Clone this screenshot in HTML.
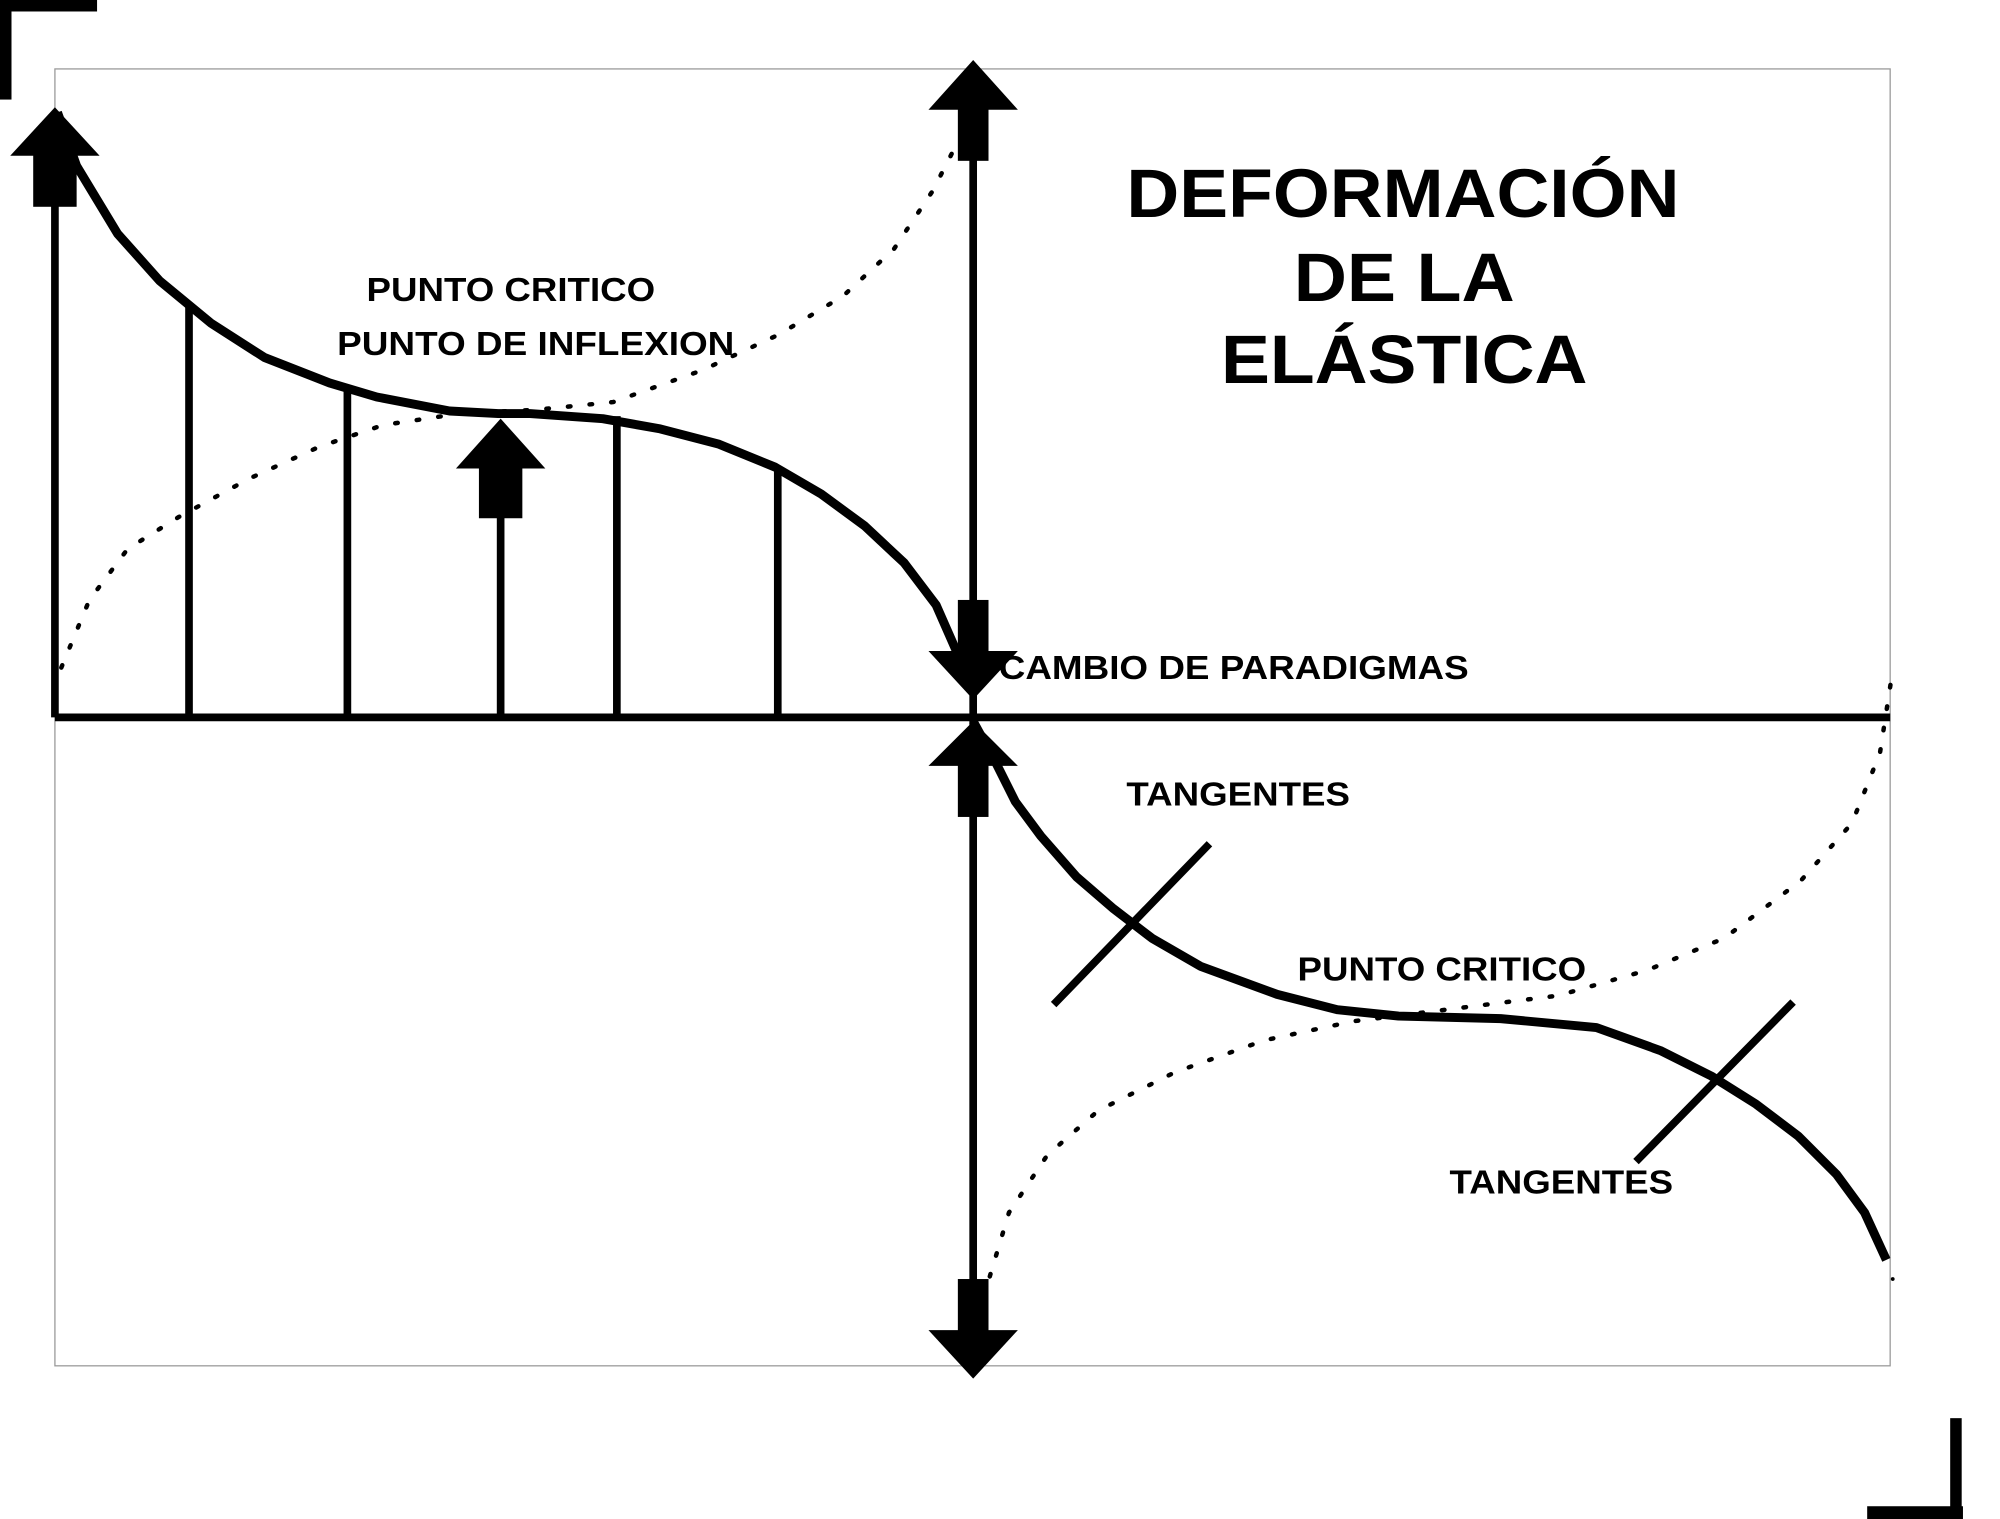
<!DOCTYPE html>
<html><head><meta charset="utf-8"><style>
html,body{margin:0;padding:0;background:#fff;}
svg{display:block;}
text{font-family:"Liberation Sans",Arial,sans-serif;font-weight:bold;fill:#000;}
</style></head><body>
<svg width="2000" height="1519" viewBox="0 0 1566 1190" preserveAspectRatio="none" xmlns="http://www.w3.org/2000/svg">
<rect x="0" y="0" width="1566" height="1190" fill="#fff"/>
<rect x="0" y="0" width="76" height="9" fill="#000"/>
<rect x="0" y="0" width="9" height="78" fill="#000"/>
<rect x="1527" y="1111" width="9" height="79" fill="#000"/>
<rect x="1462" y="1180" width="75" height="10" fill="#000"/>
<rect x="43" y="54" width="1437" height="1016" fill="none" stroke="#999" stroke-width="1"/>
<polyline fill="none" stroke="#000" stroke-width="3.5" stroke-dasharray="2,15" stroke-linecap="round"
 points="48,523 70,470 100,430 140,405 195,375 250,350 300,333 360,324 420,321 480,315 550,290 610,262 660,232 700,195 730,150 748,115"/>
<polyline fill="none" stroke="#000" stroke-width="3.5" stroke-dasharray="2,15" stroke-linecap="round"
 points="775,1000 790,950 820,905 860,870 920,840 990,815 1060,800 1140,790 1220,780 1290,760 1350,735 1410,690 1450,645 1472,590 1482,525"/>
<circle cx="1482" cy="1002" r="1.5" fill="#000"/>
<line x1="43" y1="562" x2="1480" y2="562" stroke="#000" stroke-width="6"/>
<line x1="762" y1="120" x2="762" y2="1010" stroke="#000" stroke-width="6"/>
<g stroke="#000" stroke-width="6">
<line x1="43" y1="160" x2="43" y2="562"/>
<line x1="148" y1="238" x2="148" y2="562"/>
<line x1="272" y1="306" x2="272" y2="562"/>
<line x1="392" y1="400" x2="392" y2="562"/>
<line x1="483" y1="326" x2="483" y2="562"/>
<line x1="609" y1="368" x2="609" y2="562"/>
</g>
<g fill="#000">
<polygon points="727,86 797,86 762,47"/><rect x="750" y="85" width="24" height="41"/>
<rect x="750" y="1002" width="24" height="41"/><polygon points="727,1042 797,1042 762,1080"/>
<rect x="750" y="470" width="24" height="41"/><polygon points="727,510 797,510 762,548"/>
<polygon points="727,600 797,600 762,565"/><rect x="750" y="599" width="24" height="41"/>
<polygon points="8,122 78,122 43,84"/><rect x="26" y="121" width="34" height="41"/>
<polygon points="357,367 427,367 392,328"/><rect x="375" y="366" width="34" height="40"/>
</g>
<polyline fill="none" stroke="#000" stroke-width="7" stroke-linejoin="round"
 points="45,88 60,130 92,183 125,220 165,253 207,280 258,300 295,311 352,322 390,324 415,324 472,328 517,336 563,348 607,366 643,387 677,412 708,441 733,474 762,540"/>
<polyline fill="none" stroke="#000" stroke-width="7" stroke-linejoin="round"
 points="762,565 780,598 795,628 815,655 843,687 872,712 902,735 940,757 1000,779 1047,791 1095,796 1175,798 1250,805 1300,823 1340,843 1375,865 1408,890 1438,920 1460,950 1477,987"/>
<line x1="825" y1="787" x2="947" y2="661" stroke="#000" stroke-width="6"/>
<line x1="1281" y1="910" x2="1404" y2="785" stroke="#000" stroke-width="6"/>
<text x="882" y="170" font-size="54" textLength="433" lengthAdjust="spacingAndGlyphs">DEFORMACIÓN</text>
<text x="1013" y="236" font-size="54" textLength="173" lengthAdjust="spacingAndGlyphs">DE LA</text>
<text x="956" y="300" font-size="54" textLength="287" lengthAdjust="spacingAndGlyphs">ELÁSTICA</text>
<text x="287" y="236" font-size="26" textLength="226" lengthAdjust="spacingAndGlyphs">PUNTO CRITICO</text>
<text x="264" y="278" font-size="26" textLength="311" lengthAdjust="spacingAndGlyphs">PUNTO DE INFLEXION</text>
<text x="782" y="532" font-size="26" textLength="368" lengthAdjust="spacingAndGlyphs">CAMBIO DE PARADIGMAS</text>
<text x="882" y="631" font-size="26" textLength="175" lengthAdjust="spacingAndGlyphs">TANGENTES</text>
<text x="1016" y="768" font-size="26" textLength="226" lengthAdjust="spacingAndGlyphs">PUNTO CRITICO</text>
<text x="1135" y="935" font-size="26" textLength="175" lengthAdjust="spacingAndGlyphs">TANGENTES</text>
</svg>
</body></html>
